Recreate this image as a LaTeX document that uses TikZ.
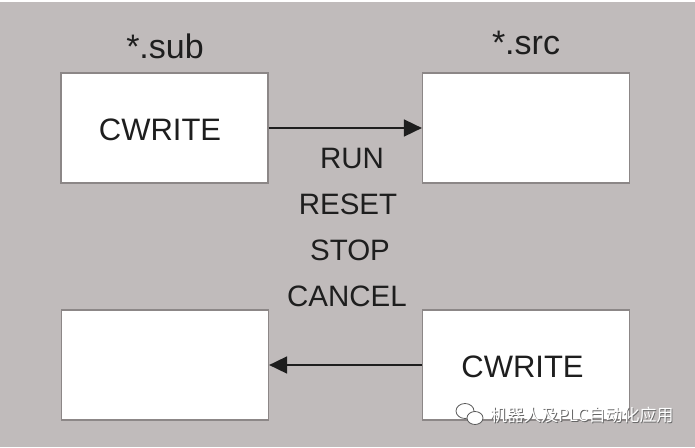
\documentclass[tikz,border=0pt]{standalone}
\usepackage{fontspec}
\setmainfont{Liberation Sans}
\newfontfamily\cjk{Noto Sans CJK SC}
\usetikzlibrary{arrows.meta}
\definecolor{bggray}{HTML}{C0BBBB}
\definecolor{boxedge}{HTML}{8C8787}
\definecolor{inkc}{HTML}{1E1E1E}
\tikzset{
  box/.style={draw=boxedge, line width=1.2pt, fill=white, minimum width=207pt, minimum height=110pt, inner sep=0pt},
  boxtxt/.style={font=\fontsize{31}{36}\selectfont, text=inkc, inner sep=0pt},
  lbl/.style={font=\fontsize{34}{40}\selectfont, text=inkc, inner sep=0pt},
  cmd/.style={font=\fontsize{29.5}{34}\selectfont, text=inkc, inner sep=0pt},
  conn/.style={line width=1.7pt, draw=inkc, -{Triangle[length=18pt,width=17pt]}},
  wm/.style={font=\cjk\fontsize{17}{19}\selectfont, text=white, inner sep=0pt}
}
\begin{document}
\begin{tikzpicture}[x=1pt,y=-1pt]
\fill[bggray] (0,0) rectangle (695,447);
\useasboundingbox (0,0) rectangle (695,447);
\draw[white, line width=1.5pt] (0,0.75) -- (695,0.75);
\node[box] (sub1) at (164.5,128) {};
\node[box] (src1) at (526,128) {};
\node[box] (sub2) at (165,365) {};
\node[box] (src2) at (526,365) {};
\node[boxtxt] (w1) at (160,130) {CWRITE};
\node[boxtxt] (w2) at (522.5,367) {CWRITE};
\node[lbl] (subl) at (165,46) {*.sub};
\node[lbl] (srcl) at (526,43) {*.src};
\node[cmd] (run) at (352,158) {RUN};
\node[cmd] (reset) at (348,204) {RESET};
\node[cmd] (stop) at (350,250) {STOP};
\node[cmd] (cancel) at (347,296) {CANCEL};
\draw[conn] (sub1.east) -- (src1.west);
\draw[conn] (src2.west) -- (sub2.east);
% watermark
\begin{scope}[line width=0.8pt]
\draw[draw=gray!70!black, fill=white] (465,411) ellipse (9pt and 7.5pt);
\draw[draw=gray!70!black, fill=white] (475,418) ellipse (8pt and 6.5pt);
\end{scope}
\node[wm, anchor=west, text=black!60] (wmshadow) at (490.8,415.8) {机器人及PLC自动化应用};
\node[wm, anchor=west] (wmtext) at (490,415) {机器人及PLC自动化应用};
\end{tikzpicture}
\end{document}
